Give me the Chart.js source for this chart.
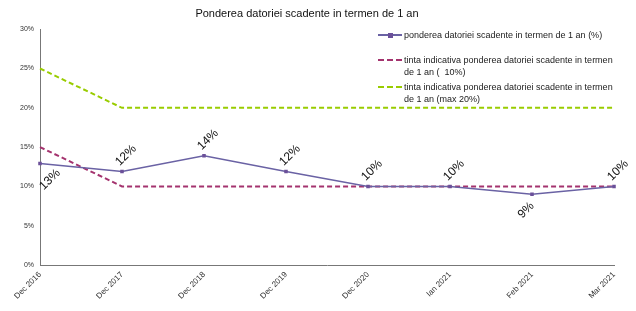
<!DOCTYPE html>
<html>
<head>
<meta charset="utf-8">
<script src="https://cdn.jsdelivr.net/npm/chart.js@4/dist/chart.umd.min.js"></script>
<style>
  html, body { margin: 0; padding: 0; background: #fff; }
  #wrap { position: relative; width: 636px; height: 311px; }
  #myChart { display: block; }
  .legend { position: absolute; left: 378px; top: 0; width: 255px; height: 110px; font: 9px "Liberation Sans", Arial, sans-serif; color: #222; }
  .legend .row { position: absolute; left: 0; width: 255px; }
  .legend .sw { position: absolute; left: 0; width: 24px; height: 0; }
  .legend .txt { position: absolute; left: 26px; width: 214px; line-height: 12px; white-space: pre-wrap; }
</style>
</head>
<body>
<div id="wrap">
  <canvas id="myChart" width="636" height="311"></canvas>
  <div class="legend" id="legend"></div>
</div>
<script>
'use strict';

const labels = ['Dec 2016', 'Dec 2017', 'Dec 2018', 'Dec 2019', 'Dec 2020', 'Ian 2021', 'Feb 2021', 'Mar 2021'];
const pondere = [12.9, 11.9, 13.9, 11.9, 10.0, 10.0, 9.0, 10.0];
const pondereText = ['13%', '12%', '14%', '12%', '10%', '10%', '9%', '10%'];
const tinta10 = [15, 10, 10, 10, 10, 10, 10, 10];
const tinta20 = [25, 20, 20, 20, 20, 20, 20, 20];
const yTicks = [0, 5, 10, 15, 20, 25, 30];

const seriesNames = [
  'ponderea datoriei scadente in termen de 1 an (%)',
  'tinta indicativa ponderea datoriei scadente in termen de 1 an (  10%)',
  'tinta indicativa ponderea datoriei scadente in termen de 1 an (max 20%)'
];

const purple = '#6A62A4',
  maroon = '#A4336E',
  lime = '#99CC00';

// labels on the main series, drawn rotated like in the original
const belowIdx = [0, 6];
const pointLabels = {
  id: 'pointLabels',
  afterDatasetsDraw(chart) {
    const ctx = chart.ctx;
    const meta = chart.getDatasetMeta(0);
    ctx.save();
    ctx.font = '12px "Liberation Sans", Arial, sans-serif';
    ctx.fillStyle = '#111';
    ctx.textAlign = 'center';
    ctx.textBaseline = 'middle';
    meta.data.forEach((pt, i) => {
      let dx = 4, dy = -16;
      if (belowIdx.includes(i)) {
        dx = i === 0 ? 10 : -6;
        dy = 16;
      }
      ctx.save();
      ctx.translate(pt.x + dx, pt.y + dy);
      ctx.rotate(-Math.PI / 4);
      ctx.fillText(pondereText[i], 0, 0);
      ctx.restore();
    });
    ctx.restore();
  }
};

const ctx = document.getElementById('myChart').getContext('2d');

new Chart(ctx, {
  type: 'line',
  data: {
    labels: labels,
    datasets: [{
      label: seriesNames[0],
      data: pondere,
      borderColor: purple,
      backgroundColor: '#6B5099',
      borderWidth: 1.5,
      pointStyle: 'rect',
      pointRadius: 2.5,
      pointBorderWidth: 0,
      order: 0
    }, {
      label: seriesNames[1],
      data: tinta10,
      borderColor: maroon,
      borderWidth: 2,
      borderDash: [5, 3],
      pointRadius: 0,
      order: 1
    }, {
      label: seriesNames[2],
      data: tinta20,
      borderColor: lime,
      borderWidth: 2,
      borderDash: [5, 3],
      pointRadius: 0,
      order: 2
    }]
  },
  options: {
    responsive: false,
    animation: false,
    layout: { padding: { top: 0, right: 22, left: 0, bottom: 0 } },
    plugins: {
      legend: { display: false },
      tooltip: { enabled: false },
      title: {
        display: true,
        text: 'Ponderea datoriei scadente in termen de 1 an',
        color: '#111',
        font: { family: '"Liberation Sans", Arial, sans-serif', size: 11, weight: 'normal' },
        padding: { top: 7, bottom: 9 }
      }
    },
    scales: {
      x: {
        offset: false,
        grid: { display: false, drawTicks: true, tickLength: 4, color: '#888' },
        border: { color: '#777', width: 1 },
        ticks: {
          minRotation: 45, maxRotation: 45, padding: 1,
          color: '#333',
          font: { family: '"Liberation Sans", Arial, sans-serif', size: 8 }
        },
        afterFit: scale => { scale.height = 46; }
      },
      y: {
        min: 0, max: 30,
        grid: { display: false, drawTicks: true, tickLength: 3 },
        border: { color: '#777', width: 1 },
        afterBuildTicks: scale => { scale.ticks = yTicks.map(v => ({ value: v })); },
        ticks: {
          color: '#333',
          padding: 3,
          font: { family: '"Liberation Sans", Arial, sans-serif', size: 7 },
          callback: v => v + '%'
        },
        afterFit: scale => { scale.width = 40; }
      }
    }
  },
  plugins: [pointLabels]
});

// legend on the right, text wraps like the original
const legendEl = document.getElementById('legend');
const legendRows = [
  { top: 35, color: purple, dash: false },
  { top: 60, color: maroon, dash: true },
  { top: 87, color: lime, dash: true }
];
legendRows.forEach((r, i) => {
  const row = document.createElement('div');
  row.className = 'row';
  row.style.top = r.top + 'px';
  const sw = document.createElement('div');
  sw.className = 'sw';
  sw.style.borderTop = (r.dash ? '2px dashed ' : '2px solid ') + r.color;
  sw.style.top = '-1px';
  row.appendChild(sw);
  if (!r.dash) {
    const mk = document.createElement('div');
    mk.style.cssText = 'position:absolute;left:10px;top:-2.5px;width:5px;height:5px;background:#6B5099';
    row.appendChild(mk);
  }
  const txt = document.createElement('div');
  txt.className = 'txt';
  txt.style.top = '-6px';
  txt.textContent = seriesNames[i];
  row.appendChild(txt);
  legendEl.appendChild(row);
});
</script>
</body>
</html>
